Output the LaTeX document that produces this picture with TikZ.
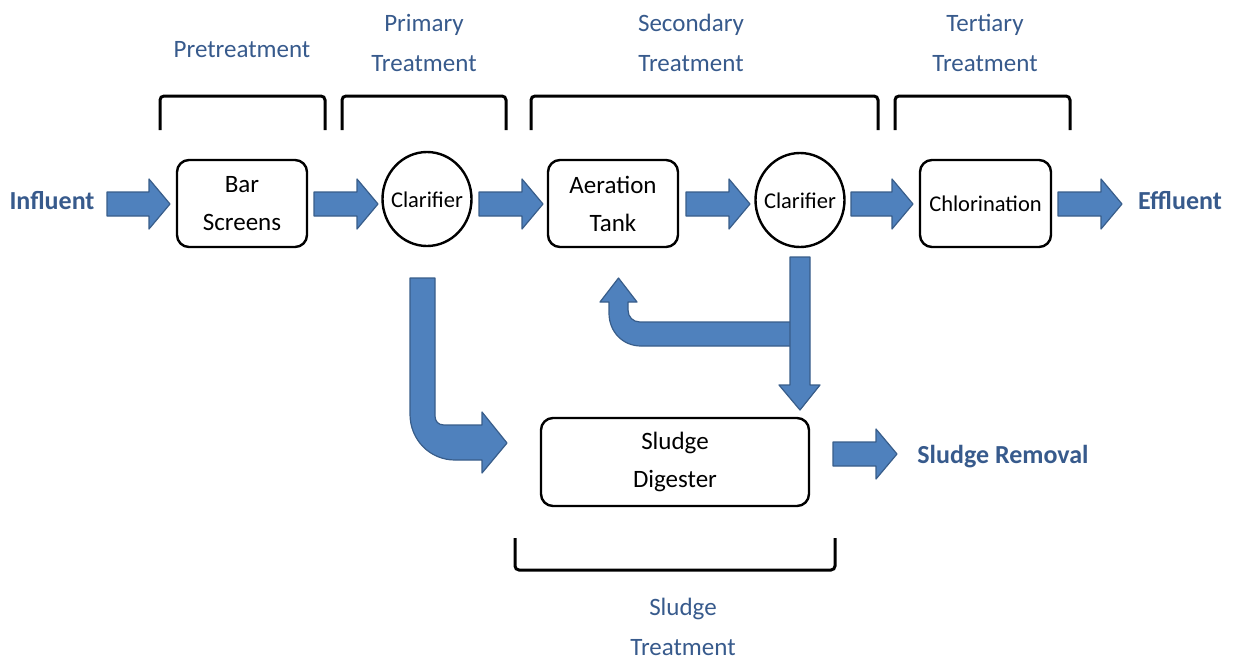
\documentclass[tikz,border=0pt]{standalone}
\usepackage{fontspec}
\setmainfont{Carlito}
\usetikzlibrary{shapes.geometric}
\definecolor{hdcol}{RGB}{55,90,140}
\definecolor{afill}{RGB}{79,129,189}
\definecolor{aline}{RGB}{56,93,138}
\newcommand\harrow[3]{%
  \draw[blk] (#1,#3-12) -- (#2-21,#3-12) -- (#2-21,#3-25) -- (#2,#3) -- (#2-21,#3+25) -- (#2-21,#3+12) -- (#1,#3+12) -- cycle;}
\begin{document}
\begin{tikzpicture}[x=1pt,y=-1pt,
  box/.style={draw, line width=2.4pt, rounded corners=12pt, align=center, inner sep=0pt,
    font=\fontsize{25}{38}\selectfont},
  clar/.style={ellipse, draw, line width=2.4pt, minimum width=89pt, minimum height=94pt, inner sep=0pt,
    label={[font=\fontsize{22.5}{27}\selectfont, yshift=-1pt]center:#1}},
  hd/.style={text=hdcol, align=center, font=\fontsize{25}{40}\selectfont},
  lbl/.style={text=hdcol, font=\bfseries\fontsize{26}{30}\selectfont},
  brk/.style={line width=3pt, rounded corners=4pt},
  blk/.style={fill=afill, draw=aline, line width=1.2pt, line join=round}]
\useasboundingbox (0,0) rectangle (1243,662);

% headings
\node[hd] (hpre) at (242,50) {Pretreatment};
\node[hd] (hpri) at (424,43) {Primary\\Treatment};
\node[hd] (hsec) at (691,43) {Secondary\\Treatment};
\node[hd] (hter) at (985,43) {Tertiary\\Treatment};
\node[hd] (hsl) at (683,627) {Sludge\\Treatment};

% brackets
\draw[brk] (160,130) -- (160,96) -- (325,96) -- (325,130);
\draw[brk] (342,130) -- (342,96) -- (506,96) -- (506,130);
\draw[brk] (531,130) -- (531,96) -- (878,96) -- (878,130);
\draw[brk] (895,130) -- (895,96) -- (1070,96) -- (1070,130);
\draw[brk] (515,538) -- (515,570) -- (835,570) -- (835,538);

% process nodes
\node[lbl] (infl) at (52,201) {Influent};
\node[box, minimum width=130pt, minimum height=87pt] (bar) at (242,203.5) {Bar\\Screens};
\node[clar=Clarifier] (c1) at (427,199) {};
\node[box, minimum width=130pt, minimum height=87pt] (aer) at (613,203.5) {Aeration\\Tank};
\node[clar=Clarifier] (c2) at (800,200) {};
\node[box, minimum width=131pt, minimum height=87pt, font=\fontsize{22.5}{27}\selectfont] (chl) at (985.5,203.5) {Chlorination};
\node[lbl] (eff) at (1180,201) {Effluent};
\node[box, minimum width=268pt, minimum height=88pt] (dig) at (675,462) {Sludge\\Digester};
\node[lbl] (rem) at (1003,457) {Sludge Removal};

% main line arrows
\harrow{107}{170}{204}
\harrow{314}{378}{204}
\harrow{479}{543}{204}
\harrow{686}{750}{204}
\harrow{851}{913}{204}
\harrow{1058}{1122}{204}
\harrow{833}{897}{454}

% bent arrow primary clarifier -> digester
\draw[blk] (410,278) -- (435,278) -- (435,416) .. controls (435,421) and (438,425) .. (444,425)
  -- (482,425) -- (482,412) -- (507,443) -- (482,473) -- (482,460) -- (455,460)
  .. controls (430,460) and (410,440) .. (410,414) -- cycle;

% recycle arrow secondary clarifier -> aeration tank
\draw[blk] (793,322) -- (640,322) .. controls (633,322) and (628,317) .. (628,310) -- (628,302)
  -- (637,302) -- (618.5,278) -- (600,302) -- (609,302) -- (609,313)
  .. controls (609,332) and (623,346) .. (641,346) -- (793,346) -- cycle;

% down arrow secondary clarifier -> digester
\draw[blk] (790,257) -- (810,257) -- (810,385) -- (820,385) -- (800,410) -- (779,385) -- (790,385) -- cycle;
\end{tikzpicture}
\end{document}
